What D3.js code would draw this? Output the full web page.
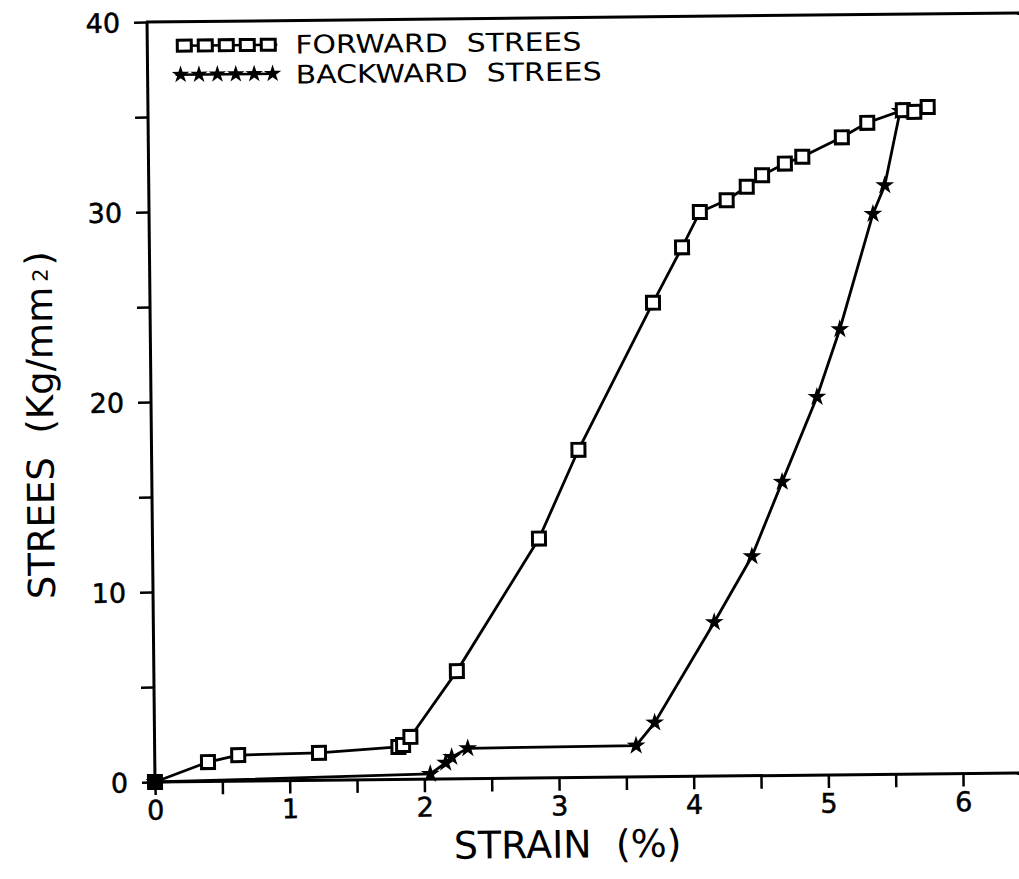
<!DOCTYPE html>
<html><head><meta charset="utf-8">
<script src="https://cdn.jsdelivr.net/npm/d3@7"></script>
<style>
body{margin:0;background:#fff;}
text{font-family:"DejaVu Sans",sans-serif;fill:#000;white-space:pre;}
</style></head>
<body><svg id="c" width="1019" height="879"></svg>
<script>
const forwardStrain = [0,0.395,0.62,1.22,1.81,1.845,1.90,2.25,2.87,3.17,3.735,3.955,4.09,4.29,4.44,4.555,4.725,4.855,5.15,5.34,5.605,5.69,5.79];
const forwardStress = [0,1.02,1.37,1.44,1.71,1.81,2.23,5.67,12.6,17.25,24.95,27.85,29.7,30.3,31.0,31.6,32.2,32.55,33.55,34.3,34.95,34.85,35.1];
const backwardStrain = [5.585,5.465,5.375,5.12,4.945,4.68,4.45,4.165,3.715,3.575,2.325,2.205,2.16,2.045,0];
const backwardStress = [34.9,31.0,29.5,23.45,19.9,15.45,11.55,8.1,2.85,1.65,1.6,1.15,0.85,0.27,0];
const xTicks = [0,0.5,1,1.5,2,2.5,3,3.5,4,4.5,5,5.5,6];
const yTicks = [0,5,10,15,20,25,30,35,40];
const legendLabels = ["FORWARD  STREES","BACKWARD  STREES"];

const svg = d3.select("#c");
// the scanned figure is slightly tilted
const root = svg.append("g").attr("transform","rotate(-0.6,155,782)");
const x = d3.scaleLinear().domain([0,6.5]).range([155, 155+6.5*134.67]);
const y = d3.scaleLinear().domain([0,40]).range([782,22]);

// top frame line
root.append("line").attr("x1",x(0)-1).attr("x2",1040).attr("y1",y(40)).attr("y2",y(40))
  .attr("stroke","#000").attr("stroke-width",3);

const xAxis = root.append("g").attr("transform",`translate(0,${y(0)})`)
  .call(d3.axisBottom(x).tickValues(xTicks).tickSize(13).tickSizeOuter(0)
    .tickFormat(d=>Number.isInteger(d)?d:""));
xAxis.select(".domain").attr("stroke-width",3).attr("d",`M${x(0)},0H1040`);
xAxis.selectAll(".tick line").attr("stroke-width",2.5);
xAxis.selectAll(".tick text").attr("font-size",27).attr("y",16).attr("dy","0.8em")
  .attr("stroke","#000").attr("stroke-width",0.5);

const yAxis = root.append("g").attr("transform",`translate(${x(0)},0)`)
  .call(d3.axisLeft(y).tickValues(yTicks).tickSize(13).tickSizeOuter(0)
    .tickFormat(d=>d%10===0?d:""));
yAxis.select(".domain").attr("stroke-width",3).attr("d",`M0,${y(0)}V${y(40)}`);
yAxis.selectAll(".tick line").attr("stroke-width",2.5);
yAxis.selectAll(".tick text").attr("font-size",27).attr("x",-27).attr("dy","0.36em")
  .attr("stroke","#000").attr("stroke-width",0.5);

// axis titles
root.append("text").attr("x",567).attr("y",862).attr("text-anchor","middle")
  .attr("font-size",38).text("STRAIN  (%)");
const yt = root.append("text").attr("transform","translate(57,424) rotate(-90)")
  .attr("text-anchor","middle").attr("font-size",37);
yt.append("tspan").text("STREES  (Kg/mm");
yt.append("tspan").attr("font-size",21).attr("dx",5).attr("dy",-4).text("2");
yt.append("tspan").attr("dx",3).attr("dy",4).text(")");

const fwd = forwardStrain.map((d,i)=>[d,forwardStress[i]]);
const bwd = backwardStrain.map((d,i)=>[d,backwardStress[i]]);
const line = d3.line().x(d=>x(d[0])).y(d=>y(d[1]));

root.append("path").attr("d",line(fwd)).attr("fill","none").attr("stroke","#000").attr("stroke-width",2.8);
root.append("path").attr("d",line(bwd)).attr("fill","none").attr("stroke","#000").attr("stroke-width",2.8);

function drawSquare(g,cx,cy,w,h){
  w=w||13; h=h||13;
  g.append("rect").attr("x",cx-w/2).attr("y",cy-h/2).attr("width",w).attr("height",h)
    .attr("fill","#fff").attr("stroke","#000").attr("stroke-width",3);
}
function drawStar(g,cx,cy,sz){
  g.append("path").attr("d",d3.symbol().type(d3.symbolStar).size(sz||110)()).attr("transform",`translate(${cx},${cy})`).attr("fill","#000");
}
const mk = root.append("g");
bwd.forEach(d=>drawStar(mk,x(d[0]),y(d[1])));
fwd.forEach(d=>drawSquare(mk,x(d[0]),y(d[1])));
mk.append("circle").attr("cx",x(0)).attr("cy",y(0)).attr("r",7).attr("fill","#000");

// legend
const lg = root.append("g");
lg.append("line").attr("x1",185).attr("x2",285).attr("y1",46).attr("y2",46).attr("stroke","#000").attr("stroke-width",2.5);
d3.range(5).forEach(i=>drawSquare(lg,192+i*21,46,14,11));
lg.append("line").attr("x1",183).attr("x2",283).attr("y1",75).attr("y2",75).attr("stroke","#000").attr("stroke-width",2.5);
d3.range(6).forEach(i=>drawStar(lg,188+i*18.4,75,95));
lg.append("text").attr("x",303).attr("y",55).attr("font-size",25.5)
  .attr("textLength",286).attr("lengthAdjust","spacingAndGlyphs").text(legendLabels[0]);
lg.append("text").attr("x",303).attr("y",85).attr("font-size",25.5)
  .attr("textLength",306).attr("lengthAdjust","spacingAndGlyphs").text(legendLabels[1]);
</script></body></html>
